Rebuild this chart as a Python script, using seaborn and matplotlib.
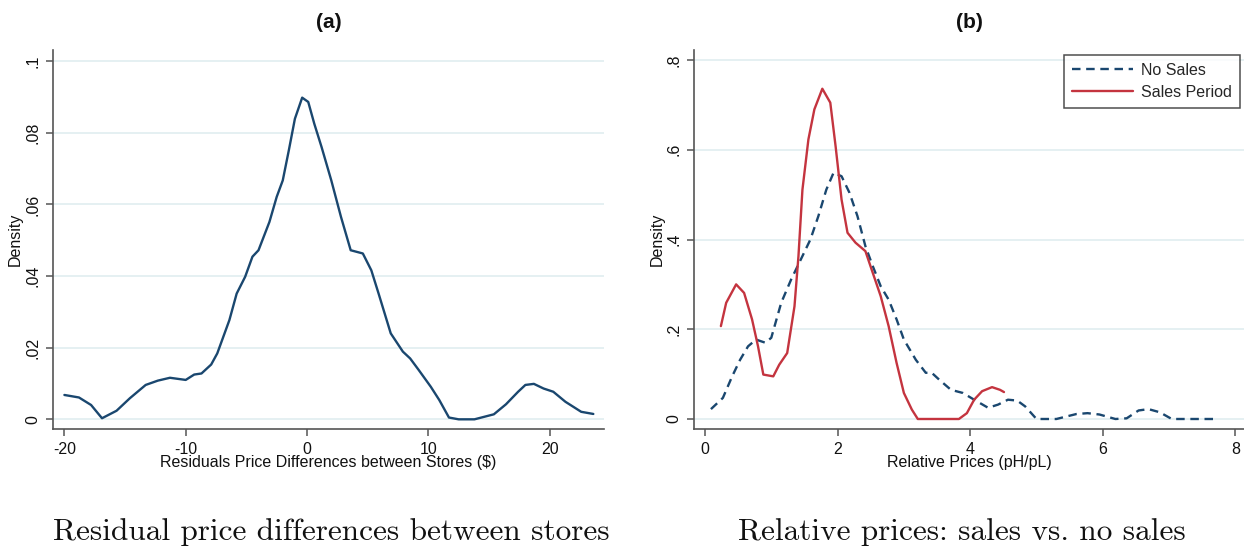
import numpy as np
import pandas as pd
import matplotlib
matplotlib.use("Agg")
import matplotlib.pyplot as plt
import seaborn as sns

# ---------------- data ----------------
resid_x = [-20, -18.8, -17.8, -16.9, -15.7, -14.6, -13.3, -12.3, -11.3, -10, -9.3, -8.7,
           -7.9, -7.4, -6.4, -5.8, -5.1, -4.5, -4.0, -3.1, -2.5, -2.0, -1.5, -1.0, -0.4,
           0.1, 0.6, 1.2, 2.0, 2.8, 3.6, 4.6, 5.3, 5.9, 6.9, 7.9, 8.5, 9.2, 10.2, 10.9,
           11.7, 12.5, 13.8, 15.4, 16.4, 17.4, 18.0, 18.7, 19.5, 20.3, 21.3, 22.6, 23.6]
resid_density = [0.0068, 0.0061, 0.0040, 0.0003, 0.0024, 0.0059, 0.0096, 0.0108, 0.0116,
                 0.0110, 0.0125, 0.0128, 0.0153, 0.0184, 0.0277, 0.0351, 0.0398, 0.0454,
                 0.0472, 0.0551, 0.0621, 0.0667, 0.0751, 0.0839, 0.0898, 0.0886, 0.0825,
                 0.0760, 0.0667, 0.0565, 0.0472, 0.0463, 0.0416, 0.0351, 0.0240, 0.0189,
                 0.0170, 0.0138, 0.0091, 0.0054, 0.0005, 0.0, 0.0, 0.0014, 0.0042, 0.0077,
                 0.0096, 0.0099, 0.0086, 0.0077, 0.0049, 0.0021, 0.0015]

nosales_x = [0.09, 0.27, 0.41, 0.53, 0.65, 0.77, 0.91, 1.0, 1.15, 1.30, 1.47, 1.59, 1.71,
             1.83, 1.94, 2.06, 2.18, 2.30, 2.42, 2.53, 2.65, 2.77, 2.89, 3.0, 3.18, 3.33,
             3.42, 3.53, 3.71, 3.89, 4.06, 4.27, 4.42, 4.57, 4.71, 4.83, 5.0, 5.3, 5.6,
             5.77, 5.95, 6.19, 6.36, 6.54, 6.69, 6.86, 7.04, 7.72]
nosales_density = [0.022, 0.047, 0.095, 0.132, 0.162, 0.177, 0.170, 0.181, 0.259, 0.311,
                   0.363, 0.400, 0.452, 0.511, 0.549, 0.541, 0.504, 0.452, 0.385, 0.341,
                   0.296, 0.266, 0.222, 0.177, 0.132, 0.103, 0.103, 0.088, 0.065, 0.058,
                   0.043, 0.025, 0.032, 0.043, 0.041, 0.028, 0.0, 0.0, 0.011, 0.013, 0.010,
                   0.0, 0.0015, 0.019, 0.022, 0.015, 0.0, 0.0]

sales_x = [0.24, 0.32, 0.47, 0.59, 0.71, 0.80, 0.88, 1.03, 1.12, 1.24, 1.35, 1.41, 1.47,
           1.56, 1.65, 1.77, 1.89, 1.97, 2.06, 2.15, 2.27, 2.42, 2.53, 2.65, 2.77, 2.89,
           3.0, 3.12, 3.21, 3.83, 3.95, 4.06, 4.18, 4.33, 4.45, 4.51]
sales_density = [0.207, 0.259, 0.300, 0.281, 0.222, 0.162, 0.099, 0.095, 0.121, 0.147,
                 0.251, 0.363, 0.511, 0.623, 0.690, 0.736, 0.705, 0.608, 0.489, 0.415,
                 0.393, 0.374, 0.326, 0.274, 0.207, 0.125, 0.058, 0.021, 0.0, 0.0, 0.013,
                 0.043, 0.062, 0.071, 0.065, 0.060]

a_xticks = [-20, -10, 0, 10, 20]
a_xticklabels = ["-20", "-10", "0", "10", "20"]
a_yticks = [0, 0.02, 0.04, 0.06, 0.08, 0.1]
a_yticklabels = ["0", ".02", ".04", ".06", ".08", ".1"]
b_xticks = [0, 2, 4, 6, 8]
b_xticklabels = ["0", "2", "4", "6", "8"]
b_yticks = [0, 0.2, 0.4, 0.6, 0.8]
b_yticklabels = ["0", ".2", ".4", ".6", ".8"]

series_names = ["No Sales", "Sales Period"]
panel_titles = ["(a)", "(b)"]
x_titles = ["Residuals Price Differences between Stores ($)", "Relative Prices (pH/pL)"]
captions = ["Residual price differences between stores", "Relative prices: sales vs. no sales"]

# ---------------- style ----------------
sns.set_theme(style="white")
plt.rcParams["font.family"] = ["Liberation Sans", "DejaVu Sans"]

BLUE = "#1a476f"
RED = "#c4343f"
GRID = "#e3eff1"
AXC = "#555555"
FS = 11.5

W, H = 1244, 548
fig = plt.figure(figsize=(W / 100, H / 100), dpi=100)

def px_axes(x0, x1, ytop, ybot):
    return fig.add_axes([x0 / W, 1 - ybot / H, (x1 - x0) / W, (ybot - ytop) / H])

ax_a = px_axes(53, 604, 50, 429)
ax_b = px_axes(694.3, 1244, 50, 429)

df_a = pd.DataFrame({"x": resid_x, "density": resid_density})
df_ns = pd.DataFrame({"x": nosales_x, "density": nosales_density})
df_s = pd.DataFrame({"x": sales_x, "density": sales_density})

sns.lineplot(data=df_a, x="x", y="density", ax=ax_a, color=BLUE, lw=1.7,
             sort=False, estimator=None)
sns.lineplot(data=df_ns, x="x", y="density", ax=ax_b, color=BLUE, lw=1.7,
             sort=False, estimator=None, linestyle=(0, (3.6, 2.4)), label=series_names[0])
sns.lineplot(data=df_s, x="x", y="density", ax=ax_b, color=RED, lw=1.7,
             sort=False, estimator=None, label=series_names[1])

def style(ax, xt, xtl, yt, ytl, xlim, ylim, xtitle):
    ax.set_xlim(*xlim)
    ax.set_ylim(*ylim)
    ax.set_xticks(xt)
    ax.set_xticklabels(xtl)
    ax.set_yticks(yt)
    ax.set_yticklabels(ytl, rotation=90, va="center")
    for y in yt:
        ax.axhline(y, color=GRID, lw=1.3, zorder=0)
    for s in ["top", "right"]:
        ax.spines[s].set_visible(False)
    for s in ["left", "bottom"]:
        ax.spines[s].set_color(AXC)
        ax.spines[s].set_linewidth(1.2)
    ax.tick_params(axis="both", direction="out", length=5, width=1.1, color=AXC,
                   labelsize=FS, labelcolor="#111111", pad=4, left=True, bottom=True)
    ax.set_xlabel(xtitle, fontsize=FS, color="#111111")
    ax.set_ylabel("Density", fontsize=FS, color="#111111")
    ax.xaxis.set_label_coords(0.5, -0.068)
    ax.yaxis.set_label_coords(-0.054, 0.5)
    ax.set_facecolor("white")

style(ax_a, a_xticks, a_xticklabels, a_yticks, a_yticklabels,
      (-20.94, 24.48), (-0.0027, 0.1031), x_titles[0])
style(ax_b, b_xticks, b_xticklabels, b_yticks, b_yticklabels,
      (-0.161, 8.13), (-0.0223, 0.8223), x_titles[1])

fig.text(328.5 / W, 1 - 22 / H, panel_titles[0], fontsize=15, fontweight="bold",
         ha="center", va="center", color="#111111")
fig.text(969 / W, 1 - 22 / H, panel_titles[1], fontsize=15, fontweight="bold",
         ha="center", va="center", color="#111111")

leg = ax_b.legend(loc="upper left", bbox_to_anchor=(0.6725, 0.987), fontsize=FS,
                  frameon=True, fancybox=False, handlelength=3.8, borderpad=0.5,
                  labelspacing=0.42, handletextpad=0.55, borderaxespad=0)
leg.get_frame().set_edgecolor("#222222")
leg.get_frame().set_linewidth(1.1)

fig.text(331 / W, 1 - 532 / H, captions[0], family="cmr10", fontsize=22.5,
         ha="center", va="center", color="#111111")
fig.text(962 / W, 1 - 532 / H, captions[1], family="cmr10", fontsize=22.5,
         ha="center", va="center", color="#111111")

fig.savefig("out.png", dpi=100, facecolor="white")
